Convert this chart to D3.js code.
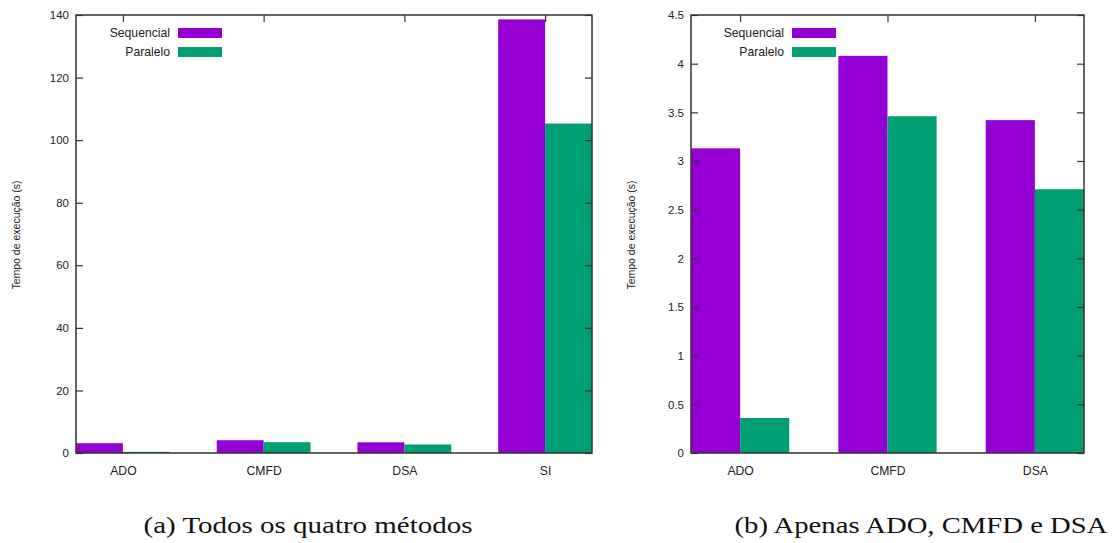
<!DOCTYPE html>
<html>
<head>
<meta charset="utf-8">
<script src="https://cdn.jsdelivr.net/npm/d3@7"></script>
<style>
  html, body { margin: 0; padding: 0; background: #fff; }
  svg { display: block; }
</style>
</head>
<body>
<svg id="chart" width="1120" height="543"></svg>
<script>
// Execution times (seconds) per method
const methodsAll = ["ADO", "CMFD", "DSA", "SI"];
const seqAll = [3.13, 4.08, 3.42, 138.6];
const parAll = [0.36, 3.46, 2.71, 105.3];
const ticksAll = [0, 20, 40, 60, 80, 100, 120, 140];

const methodsSub = ["ADO", "CMFD", "DSA"];
const seqSub = [3.13, 4.08, 3.42];
const parSub = [0.36, 3.46, 2.71];
const ticksSub = [0, 0.5, 1, 1.5, 2, 2.5, 3, 3.5, 4, 4.5];

const seriesNames = ["Sequencial", "Paralelo"];
const seriesColors = ["#9400d3", "#009e73"];
const captions = ["(a) Todos os quatro métodos", "(b) Apenas ADO, CMFD e DSA"];

const svg = d3.select("#chart");
const axisColor = "#333";
const tickFont = "Liberation Sans, Arial, sans-serif";

function panel(opts) {
  const { x0, x1, y0, y1, methods, seq, par, ticks, yMax, labelX, legendTextX, caption, captionX, captionW } = opts;
  const g = svg.append("g");
  const n = methods.length;
  // Groups sit at integer positions; each group holds two bars of width 1/3
  const x = d3.scaleLinear().domain([-1 / 3, n - 1 + 1 / 3]).range([x0, x1]);
  const y = d3.scaleLinear().domain([0, yMax]).range([y1, y0]);
  const bw = x(1 / 3) - x(0);

  const rows = methods.map((m, i) => ({ m, i, v: [seq[i], par[i]] }));
  rows.forEach(r => {
    r.v.forEach((v, s) => {
      g.append("rect")
        .attr("x", s === 0 ? x(r.i) - bw : x(r.i))
        .attr("y", y(v))
        .attr("width", bw)
        .attr("height", y(0) - y(v))
        .attr("fill", seriesColors[s]);
    });
  });

  // Left axis with ticks pointing inward, mirrored on the right
  const yAxisL = d3.axisLeft(y).tickValues(ticks).tickSize(-7).tickPadding(7)
    .tickFormat(d3.format("~g"));
  const gl = g.append("g").attr("transform", `translate(${x0},0)`).call(yAxisL);
  const yAxisR = d3.axisRight(y).tickValues(ticks).tickSize(-7).tickFormat("");
  const gr = g.append("g").attr("transform", `translate(${x1},0)`).call(yAxisR);

  const xAxisB = d3.axisBottom(x).tickValues(d3.range(n)).tickSize(0).tickPadding(13)
    .tickFormat(i => methods[i]);
  const gb = g.append("g").attr("transform", `translate(0,${y1})`).call(xAxisB);
  const xAxisT = d3.axisTop(x).tickValues(d3.range(n)).tickSize(-7).tickFormat("");
  const gt = g.append("g").attr("transform", `translate(0,${y0})`).call(xAxisT);

  [gl, gr, gb, gt].forEach(a => {
    a.select(".domain").remove();
    a.selectAll("line").attr("stroke", axisColor).attr("stroke-width", 1.2);
    a.selectAll("text").attr("fill", "#222").style("font-family", tickFont).style("font-size", "11.5px");
  });
  gb.selectAll("text").style("font-size", "12.2px");

  // Frame
  g.append("rect")
    .attr("x", x0).attr("y", y0)
    .attr("width", x1 - x0).attr("height", y1 - y0)
    .attr("fill", "none").attr("stroke", axisColor).attr("stroke-width", 1.5);

  // Y label
  g.append("text")
    .attr("transform", `translate(${labelX},${(y0 + y1) / 2 + 1}) rotate(-90)`)
    .attr("text-anchor", "middle")
    .style("font-family", tickFont).style("font-size", "10.5px")
    .attr("fill", "#222")
    .text("Tempo de execução (s)");

  // Legend
  seriesNames.forEach((name, s) => {
    const ly = 33 + s * 19;
    g.append("text")
      .attr("x", legendTextX).attr("y", ly + 4)
      .attr("text-anchor", "end")
      .style("font-family", tickFont).style("font-size", "12.2px")
      .attr("fill", "#222")
      .text(name);
    g.append("rect")
      .attr("x", legendTextX + 8).attr("y", ly - 5)
      .attr("width", 44).attr("height", 10)
      .attr("fill", seriesColors[s]);
  });

  // Caption
  svg.append("text")
    .attr("x", captionX - captionW / 2).attr("y", 533)
    .attr("textLength", captionW)
    .attr("lengthAdjust", "spacingAndGlyphs")
    .style("font-family", "Liberation Serif, Times New Roman, serif")
    .style("font-size", "23px")
    .attr("fill", "#111")
    .text(caption);
}

panel({
  x0: 76, x1: 592, y0: 15, y1: 453,
  methods: methodsAll, seq: seqAll, par: parAll, ticks: ticksAll, yMax: 140,
  labelX: 20, legendTextX: 170, caption: captions[0], captionX: 308, captionW: 329
});

panel({
  x0: 691, x1: 1084, y0: 15, y1: 453,
  methods: methodsSub, seq: seqSub, par: parSub, ticks: ticksSub, yMax: 4.5,
  labelX: 635, legendTextX: 784, caption: captions[1], captionX: 921, captionW: 373
});
</script>
</body>
</html>
